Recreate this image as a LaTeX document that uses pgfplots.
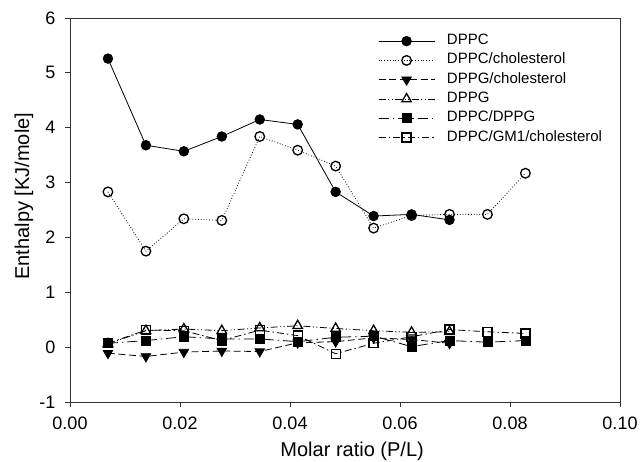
\documentclass[border=0pt]{standalone}
\usepackage{fontspec}
\setmainfont{Liberation Sans}
\usepackage{pgfplots}
\pgfplotsset{compat=1.18}
\usetikzlibrary{calc}

\begin{document}
\begin{tikzpicture}
\begin{axis}[
  name=ax,
  scale only axis,
  width=550pt, height=384pt,
  xmin=0, xmax=0.1, ymin=-1, ymax=6,
  xtick={0,0.02,0.04,0.06,0.08,0.1},
  ytick={-1,0,...,6},
  tick align=outside,
  tick pos=left,
  major tick length=5pt,
  axis line style={line width=0.9pt, black!80},
  tick style={line width=0.9pt, black!80},
  /pgf/number format/assume math mode=true,
  xticklabel style={font=\fontsize{18}{20}\selectfont, yshift=-6pt,
    /pgf/number format/.cd, fixed, fixed zerofill, precision=2},
  yticklabel style={font=\fontsize{18}{20}\selectfont, xshift=-6pt},
  xlabel={Molar ratio (P/L)},
  ylabel={Enthalpy [KJ/mole]},
  label style={font=\fontsize{20}{22}\selectfont},
  xlabel style={at={(axis description cs:0.513,0)}, anchor=base, yshift=-54pt},
  ylabel style={at={(axis description cs:0,0.536)}, anchor=center, yshift=46pt},
  legend cell align=left,
  legend style={at={(0.5545,0.965)}, anchor=north west, draw=none, fill=none,
    font=\fontsize{15}{17}\selectfont, row sep=4.3pt,
    nodes={inner sep=0pt, text height=11pt, text depth=4pt},
    /tikz/every odd column/.append style={column sep=12pt}},
  legend image code/.code={%
    \draw[mark repeat=2, mark phase=2] plot coordinates {(0pt,0pt) (28pt,0pt) (56pt,0pt)};},
  every axis plot/.append style={line width=0.8pt, black},
  every mark/.append style={solid, line width=1pt},
]
\addplot[solid, mark=*, mark size=4.8pt, mark options={solid, fill=black}]
  coordinates {(0.0069,5.26)(0.0138,3.68)(0.0207,3.57)(0.0276,3.84)(0.0345,4.15)
  (0.0414,4.06)(0.0483,2.83)(0.0552,2.39)(0.0621,2.42)(0.069,2.32)};
\addlegendentry{DPPC}

\addplot[dash pattern=on 0.8pt off 2pt, mark=o, mark size=4.8pt,
  mark options={solid, line width=1.3pt, fill=white}]
  coordinates {(0.0069,2.83)(0.0138,1.75)(0.0207,2.34)(0.0276,2.31)(0.0345,3.84)
  (0.0414,3.59)(0.0483,3.30)(0.0552,2.17)(0.0621,2.40)(0.069,2.42)(0.0759,2.42)(0.0828,3.17)};
\addlegendentry{DPPC/cholesterol}

\addplot[dash pattern=on 7pt off 3.5pt, mark=triangle*, mark size=5.5pt,
  mark options={solid, fill=black, rotate=180}]
  coordinates {(0.0069,-0.11)(0.0138,-0.17)(0.0207,-0.09)(0.0276,-0.07)(0.0345,-0.08)
  (0.0414,0.08)(0.0483,0.10)(0.0552,0.17)(0.0621,0.14)(0.069,0.07)};
\addlegendentry{DPPG/cholesterol}

\addplot[dash pattern=on 7pt off 2.5pt on 1pt off 2.5pt on 1pt off 2.5pt, mark=triangle,
  mark size=5.5pt, mark options={solid, line width=1.3pt, fill=white}]
  coordinates {(0.0069,0.06)(0.0138,0.30)(0.0207,0.33)(0.0276,0.30)(0.0345,0.35)
  (0.0414,0.39)(0.0483,0.34)(0.0552,0.30)(0.0621,0.27)(0.069,0.28)};
\addlegendentry{DPPG}

\addplot[dash pattern=on 10pt off 4pt on 1.5pt off 4pt, mark=square*, mark size=4.5pt,
  mark options={solid, fill=black}]
  coordinates {(0.0069,0.07)(0.0138,0.12)(0.0207,0.19)(0.0276,0.15)(0.0345,0.15)
  (0.0414,0.10)(0.0483,0.18)(0.0552,0.20)(0.0621,0.01)(0.069,0.12)(0.0759,0.09)(0.0828,0.12)};
\addlegendentry{DPPC/DPPG}

\addplot[dash pattern=on 7pt off 3pt on 1.5pt off 3pt, mark=square, mark size=4.5pt,
  mark options={solid, line width=1.3pt, fill=white}]
  coordinates {(0.0069,0.07)(0.0138,0.31)(0.0207,0.30)(0.0276,0.12)(0.0345,0.31)
  (0.0414,0.21)(0.0483,-0.12)(0.0552,0.07)(0.0621,0.19)(0.069,0.32)(0.0759,0.28)(0.0828,0.25)};
\addlegendentry{DPPC/GM1/cholesterol}
\end{axis}
\draw[line width=0.9pt, black!80] (ax.north west) -- (ax.north east) -- (ax.south east);
\pgfresetboundingbox
\path[use as bounding box] ($(ax.south west)+(-70pt,-59pt)$) rectangle ($(ax.north east)+(22pt,18pt)$);
\end{tikzpicture}
\end{document}
